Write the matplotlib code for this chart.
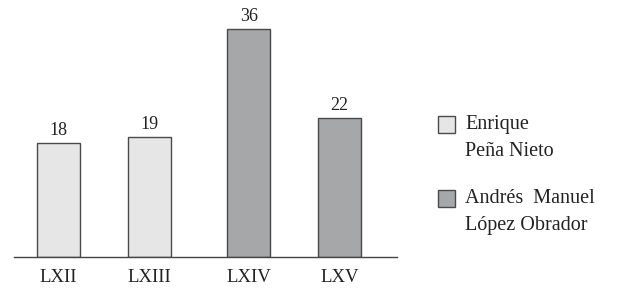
import matplotlib
matplotlib.use('Agg')
import matplotlib.pyplot as plt
from matplotlib.patches import Rectangle

# legislaturas y valores
legislaturas = ['LXII', 'LXIII', 'LXIV', 'LXV']
valores = [18, 19, 36, 22]
presidente = [0, 0, 1, 1]  # 0 = Peña Nieto, 1 = López Obrador
nombres = ['Enrique\nPeña Nieto', 'Andrés  Manuel\nLópez Obrador']
colores = ['#e6e6e6', '#a6a7a9']

W, H = 617, 308
plt.rcParams['font.family'] = ['Liberation Serif', 'DejaVu Serif']

fig = plt.figure(figsize=(W / 100, H / 100), dpi=100)
ax = fig.add_axes([14 / W, 51 / H, 383 / W, 247 / H])

# un poco mas de separacion entre los dos sexenios
pos = [0, 1, 2.09, 3.09]
barras = ax.bar(pos, valores, width=0.47,
                color=[colores[p] for p in presidente],
                edgecolor='#4a4a4a', linewidth=1.0, zorder=2)

for b, v in zip(barras, valores):
    ax.annotate(str(v), (b.get_x() + b.get_width() / 2, v),
                xytext=(0, 3), textcoords='offset points',
                ha='center', va='bottom', fontsize=13, color='#222222')

ax.set_xlim(-0.489, 3.72)
ax.set_ylim(0, 39)
ax.set_xticks(pos)
ax.set_xticklabels(legislaturas, fontsize=13.5, color='#222222')
ax.tick_params(axis='x', length=0, pad=9)
ax.set_yticks([])
for s in ['top', 'right', 'left']:
    ax.spines[s].set_visible(False)
ax.spines['bottom'].set_color('#444444')
ax.spines['bottom'].set_linewidth(1.0)

# leyenda dibujada a mano
ys = [116, 190]
for nombre, color, y in zip(nombres, colores, ys):
    fig.add_artist(Rectangle((438 / W, 1 - (y + 17) / H), 17 / W, 17 / H,
                             transform=fig.transFigure, facecolor=color,
                             edgecolor='#4a4a4a', linewidth=1.0))
    fig.text(465 / W, 1 - (y - 1) / H, nombre, ha='left', va='top',
             fontsize=14.5, linespacing=1.6, color='#222222')

fig.savefig('out.png', dpi=100)
